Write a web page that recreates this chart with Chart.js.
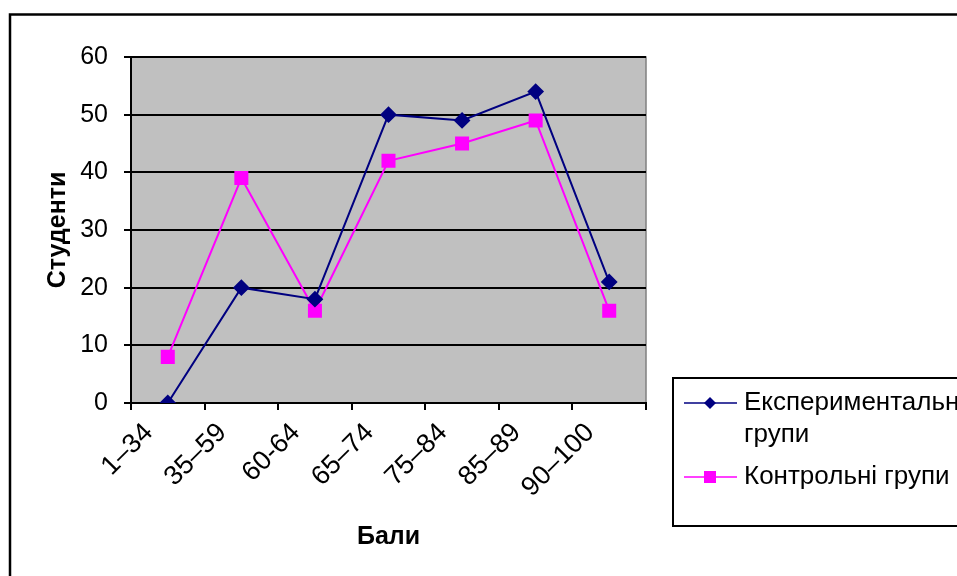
<!DOCTYPE html>
<html>
<head>
<meta charset="utf-8">
<script src="https://cdn.jsdelivr.net/npm/chart.js@4/dist/chart.umd.min.js"></script>
<style>
  html, body { margin: 0; padding: 0; background: #ffffff; }
  #wrap { width: 957px; height: 576px; position: relative; }
</style>
</head>
<body>
<div id="wrap"><canvas id="c" width="957" height="576"></canvas></div>
<script>
// Score bands and number of students in each band
const categories = ['1–34', '35–59', '60-64', '65–74', '75–84', '85–89', '90–100'];
const experimentalGroups = [0, 20, 18, 50, 49, 54, 21];
const controlGroups = [8, 39, 16, 42, 45, 49, 16];
const yTicks = [0, 10, 20, 30, 40, 50, 60];

const seriesNames = ['Експериментальні групи', 'Контрольні групи'];
const legendLines = [['Експериментальні', 'групи'], ['Контрольні групи']];

const FONT = '"Liberation Sans", Arial, sans-serif';

// Grey plot background, outer frame, plot border
const framePlugin = {
  id: 'frame',
  beforeDraw(chart) {
    const { ctx, chartArea: a } = chart;
    ctx.save();
    ctx.fillStyle = '#ffffff';
    ctx.fillRect(0, 0, chart.width, chart.height);
    ctx.fillStyle = '#c0c0c0';
    ctx.fillRect(a.left, a.top, a.right - a.left, a.bottom - a.top);
    ctx.strokeStyle = '#808080';
    ctx.lineWidth = 1.5;
    ctx.strokeRect(a.left, a.top, a.right - a.left, a.bottom - a.top);
    ctx.restore();
  },
  afterDraw(chart) {
    const { ctx } = chart;
    ctx.save();
    ctx.strokeStyle = '#000000';
    ctx.lineWidth = 2.5;
    ctx.strokeRect(10, 14.5, chart.width + 20, chart.height + 20);
    ctx.restore();
  }
};

// Boxed legend drawn from the dataset styles
const boxLegend = {
  id: 'boxLegend',
  afterDraw(chart) {
    const { ctx } = chart;
    const x0 = 673, y0 = 378;
    ctx.save();
    ctx.fillStyle = '#ffffff';
    ctx.fillRect(x0, y0, chart.width - x0 + 10, 148);
    ctx.strokeStyle = '#000000';
    ctx.lineWidth = 2;
    ctx.strokeRect(x0, y0, chart.width - x0 + 20, 148);
    const rows = [403, 477];
    chart.data.datasets.forEach((ds, i) => {
      const y = rows[i];
      ctx.strokeStyle = ds.borderColor;
      ctx.lineWidth = 1.5;
      ctx.beginPath();
      ctx.moveTo(684, y);
      ctx.lineTo(737, y);
      ctx.stroke();
      ctx.fillStyle = ds.pointBackgroundColor;
      ctx.beginPath();
      if (ds.pointStyle === 'rectRot') {
        const r = 6;
        ctx.moveTo(710 - r, y);
        ctx.lineTo(710, y - r);
        ctx.lineTo(710 + r, y);
        ctx.lineTo(710, y + r);
        ctx.closePath();
      } else {
        ctx.rect(704, y - 6, 12, 12);
      }
      ctx.fill();
      ctx.fillStyle = '#000000';
      ctx.font = '26px ' + FONT;
      ctx.textBaseline = 'middle';
      ctx.textAlign = 'left';
      legendLines[i].forEach((t, k) => ctx.fillText(t, 744, y + k * 32));
    });
    ctx.restore();
  }
};

new Chart(document.getElementById('c'), {
  type: 'line',
  data: {
    labels: categories,
    datasets: [
      {
        label: seriesNames[0],
        data: experimentalGroups,
        borderColor: '#000080',
        backgroundColor: '#000080',
        pointBackgroundColor: '#000080',
        pointBorderColor: '#000080',
        pointStyle: 'rectRot',
        pointRadius: 7,
        borderWidth: 2,
        tension: 0
      },
      {
        label: seriesNames[1],
        data: controlGroups,
        borderColor: '#ff00ff',
        backgroundColor: '#ff00ff',
        pointBackgroundColor: '#ff00ff',
        pointBorderColor: '#ff00ff',
        pointStyle: 'rect',
        pointRadius: 8.5,
        borderWidth: 2,
        tension: 0
      }
    ]
  },
  options: {
    responsive: false,
    animation: false,
    layout: { padding: { left: 43, right: 311, top: 57, bottom: 16 } },
    plugins: {
      legend: { display: false },
      tooltip: { enabled: false }
    },
    scales: {
      x: {
        type: 'category',
        offset: true,
        afterFit(scale) { scale.height = 157; },
        grid: {
          offset: true,
          drawOnChartArea: false,
          drawTicks: true,
          tickLength: 7,
          color: '#000000',
          lineWidth: 2
        },
        border: { display: true, color: '#000000', width: 2 },
        ticks: {
          autoSkip: false,
          minRotation: 45,
          maxRotation: 45,
          labelOffset: -19,
          padding: 7,
          color: '#000000',
          font: { family: FONT, size: 27 }
        },
        title: {
          display: true,
          text: 'Бали',
          color: '#000000',
          padding: { top: 0, bottom: 8 },
          font: { family: FONT, size: 25, weight: 'bold' }
        }
      },
      y: {
        min: 0,
        max: 60,
        afterFit(scale) { scale.width = 88; },
        afterBuildTicks(scale) { scale.ticks = yTicks.map(v => ({ value: v })); },
        grid: {
          drawTicks: true,
          tickLength: 7,
          color: '#000000',
          lineWidth: 2
        },
        border: { display: true, color: '#000000', width: 2 },
        ticks: {
          padding: 16,
          color: '#000000',
          font: { family: FONT, size: 25 }
        },
        title: {
          display: true,
          text: 'Студенти',
          color: '#000000',
          padding: { top: 0, bottom: 0 },
          font: { family: FONT, size: 25, weight: 'bold' }
        }
      }
    }
  },
  plugins: [framePlugin, boxLegend]
});
</script>
</body>
</html>
